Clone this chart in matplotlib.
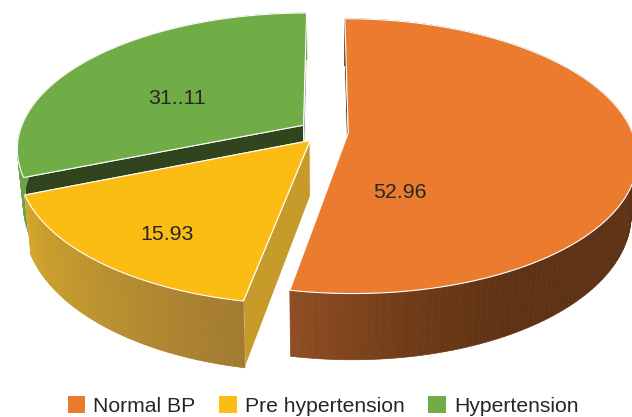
import numpy as np
import matplotlib
matplotlib.use("Agg")
import matplotlib.pyplot as plt
from matplotlib.patches import Patch, Polygon

plt.rcParams["font.family"] = ["Liberation Sans", "DejaVu Sans"]

categories = ["Normal BP", "Pre hypertension", "Hypertension"]
values = [52.96, 15.93, 31.11]
value_labels = ["52.96", "15.93", "31..11"]
top_colors = ["#EB7C2F", "#FBBC14", "#70AD47"]
# side shading, from the start of each slice's arc to its end (clockwise)
side_stops = [
    [(0.0, "#5E3214"), (0.80, "#5E3214"), (0.90, "#703C18"), (1.0, "#8F4E24")],
    [(0.0, "#A27A30"), (1.0, "#D4A72C")],
    [(0.0, "#6FA04C"), (1.0, "#6FA04C")],
]
cut_start_colors = ["#4A2810", "#C69B2A", "#30451D"]
cut_end_colors = ["#8F4E24", "#C69B2A", "#8A9A80"]
label_pos = [(400, 192), (167, 234), (177, 98)]
explode = [0.082, 0.082, 0.092]

# layout of the pie, in pixels
CX, CY = 325, 132
RX, RY = 284, 133.2
PERSP = 0.168
DEPTH = 55
SHRINK = 0.98


def project(x, y):
    s = 1.0 / (1.0 + PERSP * y)
    return CX + RX * x * s, CY - RY * y * s, s


def lower(px, py, s):
    return CX + (px - CX) * SHRINK, py + DEPTH * s


def ramp(stops, t):
    pos = [p for p, _ in stops]
    rgb = np.array([matplotlib.colors.to_rgb(c) for _, c in stops])
    return [np.interp(t, pos, rgb[:, i]) for i in range(3)]


fig = plt.figure(figsize=(6.32, 4.17), dpi=100)
ax = fig.add_axes([0, 0, 1, 1])
ax.set_xlim(0, 632)
ax.set_ylim(417, 0)
ax.axis("off")

fractions = np.array(values) / sum(values)
ends = np.cumsum(fractions) * 2 * np.pi
starts = ends - fractions * 2 * np.pi

# back to front: green, yellow, orange
for i in [2, 1, 0]:
    mid = (starts[i] + ends[i]) / 2
    ex, ey = explode[i] * np.sin(mid), explode[i] * np.cos(mid)
    a = np.linspace(starts[i], ends[i], 150)
    tx, ty, ts = project(ex + np.sin(a), ey + np.cos(a))
    bx, by = lower(tx, ty, ts)
    ax0, ay0, as0 = project(ex, ey)
    abx, aby = lower(ax0, ay0, as0)

    # cut faces, the hidden one first
    for k, col in ((-1, cut_end_colors[i]), (0, cut_start_colors[i])):
        ax.add_patch(Polygon(
            [(ax0, ay0), (tx[k], ty[k]), (bx[k], by[k]), (abx, aby)],
            closed=True, facecolor=col, edgecolor="white", linewidth=0.7,
        ))

    # outer wall
    for j in range(len(a) - 1):
        col = ramp(side_stops[i], j / (len(a) - 2))
        ax.add_patch(Polygon(
            [(tx[j], ty[j]), (tx[j + 1], ty[j + 1]),
             (bx[j + 1], by[j + 1]), (bx[j], by[j])],
            closed=True, facecolor=col, edgecolor=col, linewidth=0.5,
        ))

    # top face
    pts = np.column_stack([np.r_[ax0, tx], np.r_[ay0, ty]])
    ax.add_patch(Polygon(pts, closed=True, facecolor=top_colors[i],
                         edgecolor="white", linewidth=0.8, joinstyle="miter"))

for txt, (lx, ly) in zip(value_labels, label_pos):
    ax.text(lx, ly, txt, ha="center", va="center", fontsize=15.4, color="#262626")

handles = [Patch(facecolor=c, edgecolor="none") for c in top_colors]
ax.legend(
    handles, categories, loc="center", bbox_to_anchor=(0.511, 0.027), ncol=3,
    frameon=False, fontsize=15.2, handlelength=0.85, handleheight=0.85,
    handletextpad=0.38, columnspacing=1.1, borderpad=0, labelcolor="#262626",
)

fig.savefig("out.png", dpi=100)
